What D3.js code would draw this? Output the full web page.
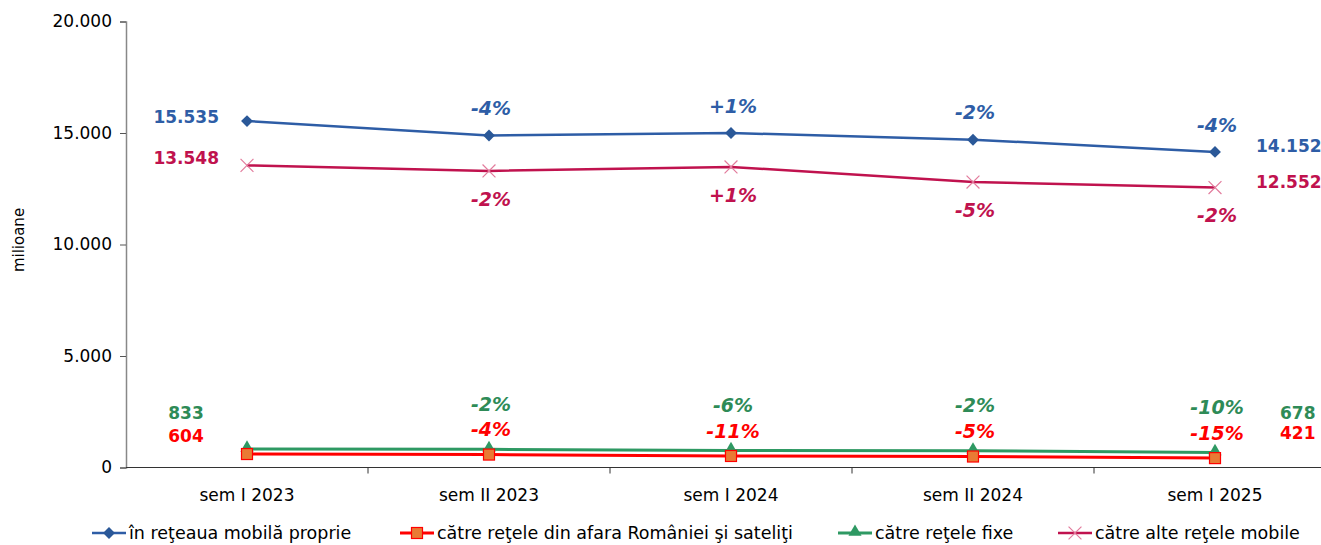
<!DOCTYPE html>
<html>
<head>
<meta charset="utf-8">
<script src="https://cdn.jsdelivr.net/npm/d3@7"></script>
<style>
  body { margin: 0; background: #fff; }
  text { font-family: "DejaVu Sans", Verdana, sans-serif; }
</style>
</head>
<body>
<script>
// data
var categories = ["sem I 2023", "sem II 2023", "sem I 2024", "sem II 2024", "sem I 2025"];
var proprie = [15535, 14890, 15000, 14700, 14152];
var alteMobile = [13548, 13300, 13480, 12800, 12552];
var fixe = [833, 816, 767, 752, 678];
var externe = [604, 580, 517, 493, 421];
var pctProprie = ["-4%", "+1%", "-2%", "-4%"];
var pctAlte = ["-2%", "+1%", "-5%", "-2%"];
var pctFixe = ["-2%", "-6%", "-2%", "-10%"];
var pctExterne = ["-4%", "-11%", "-5%", "-15%"];
var yTicks = [0, 5000, 10000, 15000, 20000];

var W = 1321, H = 545;
var svg = d3.select("body").append("svg")
  .attr("width", W)
  .attr("height", H);

var x = d3.scaleBand().domain(categories).range([126, 126 + 5 * 242]);
var y = d3.scaleLinear().domain([0, 20000]).range([467.5, 21.5]);
var cx = function(i) { return x(categories[i]) + x.bandwidth() / 2; };

// y axis
var yAxis = svg.append("g")
  .attr("transform", "translate(126,0)")
  .call(d3.axisLeft(y).tickValues(yTicks).tickSize(6).tickPadding(8)
    .tickFormat(function(d) { return d3.format(",")(d).replace(/,/g, "."); }));
yAxis.select(".domain").attr("stroke", "#888").attr("stroke-width", 1.5);
yAxis.selectAll(".tick line").attr("stroke", "#555");
yAxis.selectAll("text").attr("font-size", 17).attr("fill", "#000")
  .style("font-family", "DejaVu Sans");

svg.append("text")
  .attr("transform", "translate(24,240) rotate(-90)")
  .attr("text-anchor", "middle")
  .attr("font-size", 15)
  .text("milioane");

// x axis
var xg = svg.append("g").attr("transform", "translate(0,467.5)");
xg.append("line").attr("x1", 126).attr("x2", W).attr("stroke", "#333").attr("stroke-width", 1.2);
xg.selectAll(".tk").data(categories.slice(1)).enter().append("line")
  .attr("x1", function(d) { return x(d); })
  .attr("x2", function(d) { return x(d); })
  .attr("y1", 0).attr("y2", 6)
  .attr("stroke", "#333");
xg.selectAll(".lbl").data(categories).enter().append("text")
  .attr("x", function(d) { return x(d) + x.bandwidth() / 2; })
  .attr("y", 33)
  .attr("text-anchor", "middle")
  .attr("font-size", 17)
  .text(function(d) { return d; });

var series = [
  { name: "în reţeaua mobilă proprie", vals: proprie, pct: pctProprie, color: "#2E5DA6", width: 2.5, marker: "diamond", pctDy: -27, labelColor: "#2E5DA6" },
  { name: "către reţele din afara României şi sateliţi", vals: externe, pct: pctExterne, color: "#FF0000", width: 3, marker: "square", pctDy: -25, labelColor: "#FF0000" },
  { name: "către reţele fixe", vals: fixe, pct: pctFixe, color: "#2E9963", width: 3, marker: "triangle", pctDy: -45, labelColor: "#2E8B57" },
  { name: "către alte reţele mobile", vals: alteMobile, pct: pctAlte, color: "#C0124E", width: 2.5, marker: "cross", pctDy: 28, labelColor: "#C0124E" }
];

var line = d3.line()
  .x(function(d, i) { return cx(i); })
  .y(function(d) { return y(d); });

function drawMarker(g, type, px, py) {
  if (type === "diamond") {
    g.append("path").attr("d", d3.symbol(d3.symbolDiamond2, 90)())
      .attr("transform", "translate(" + px + "," + py + ")")
      .attr("fill", "#2A5898");
  } else if (type === "square") {
    g.append("rect").attr("x", px - 5.5).attr("y", py - 5.5).attr("width", 11).attr("height", 11)
      .attr("fill", "#E97A34").attr("stroke", "#FF0000").attr("stroke-width", 1.2);
  } else if (type === "triangle") {
    g.append("path").attr("d", d3.symbol(d3.symbolTriangle, 75)())
      .attr("transform", "translate(" + px + "," + (py - 1) + ")")
      .attr("fill", "#2E9963");
  } else {
    g.append("path").attr("d", d3.symbol(d3.symbolTimes, 110)())
      .attr("transform", "translate(" + px + "," + py + ")")
      .attr("fill", "none").attr("stroke", "#E27B9C").attr("stroke-width", 1.2);
  }
}

// draw order: fixe, externe under; then others
[2, 1, 3, 0].forEach(function(k) {
  var s = series[k];
  var g = svg.append("g");
  g.append("path").datum(s.vals)
    .attr("d", line)
    .attr("fill", "none")
    .attr("stroke", s.color)
    .attr("stroke-width", s.width);
  s.vals.forEach(function(v, i) { drawMarker(g, s.marker, cx(i), y(v)); });
});

// percent labels
series.forEach(function(s) {
  svg.append("g").selectAll("text").data(s.pct).enter().append("text")
    .attr("x", function(d, i) { return cx(i + 1) + 2; })
    .attr("y", function(d, i) { return y(s.vals[i + 1]) + s.pctDy; })
    .attr("dy", "0.35em")
    .attr("text-anchor", "middle")
    .attr("font-size", 19)
    .attr("font-weight", "bold")
    .attr("font-style", "italic")
    .attr("fill", s.labelColor)
    .text(function(d) { return d; });
});

// value labels (first / last)
var fmt = function(v) { return d3.format(",")(v).replace(/,/g, "."); };
var endLabels = [
  { s: 0, left: [219, 117], right: [1256, 146] },
  { s: 3, left: [219, 158], right: [1256, 182] },
  { s: 2, left: [186, 413], right: [1280, 413] },
  { s: 1, left: [186, 436], right: [1280, 433] }
];
endLabels.forEach(function(e) {
  var s = series[e.s];
  var small = e.s === 1 || e.s === 2;
  svg.append("text")
    .attr("x", e.left[0]).attr("y", e.left[1]).attr("dy", "0.35em")
    .attr("text-anchor", small ? "middle" : "end")
    .attr("font-size", 17).attr("font-weight", "bold")
    .attr("fill", s.labelColor)
    .text(fmt(s.vals[0]));
  svg.append("text")
    .attr("x", e.right[0]).attr("y", e.right[1]).attr("dy", "0.35em")
    .attr("text-anchor", "start")
    .attr("font-size", 17).attr("font-weight", "bold")
    .attr("fill", s.labelColor)
    .text(fmt(s.vals[s.vals.length - 1]));
});

// legend
var legX = [92, 400, 838, 1058];
series.forEach(function(s, i) {
  var g = svg.append("g").attr("transform", "translate(" + legX[i] + ",533)");
  g.append("line").attr("x1", 0).attr("x2", 34).attr("stroke", s.color).attr("stroke-width", s.width);
  drawMarker(g, s.marker, 17, 0);
  g.append("text").attr("x", 37).attr("dy", "0.35em").attr("font-size", 17.5).text(s.name);
});
</script>
</body>
</html>
